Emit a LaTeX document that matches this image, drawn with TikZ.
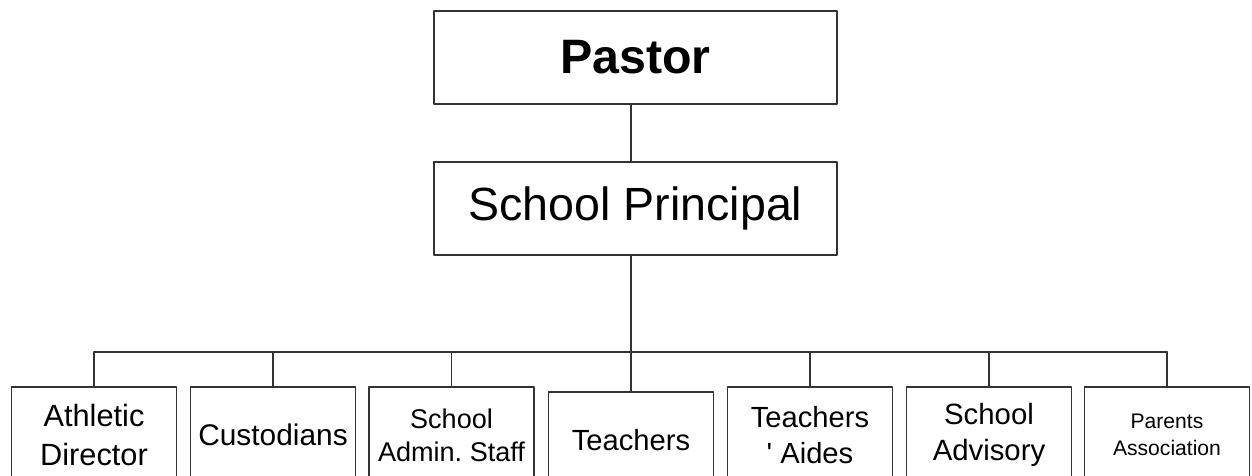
\documentclass[tikz,border=0pt]{standalone}
\usepackage{fontspec}
\setmainfont{Liberation Sans}
\frenchspacing
\begin{document}
\begin{tikzpicture}[x=0.02cm,y=-0.02cm,line join=round,line cap=round]
			\tikzset{box/.style={draw=black!80,line width=0.9pt,inner sep=0pt,align=center},
				topbox/.style={box,minimum width=8.06cm,minimum height=1.86cm},
				unit/.style={box,minimum width=3.3cm,minimum height=1.92cm},
				link/.style={draw=black!80,line width=0.9pt}}
			\clip (0,0) rectangle (1252,476);
			\node[topbox,font=\fontsize{27.5}{32}\selectfont\bfseries] (pastor) at (635.5,57.5) {Pastor};
			\node[topbox,font=\fontsize{26.5}{31}\selectfont] (principal) at (635.5,208.5) {School Principal};
			\node[unit,font=\fontsize{17.5}{22}\selectfont] (athl) at (94,435) {Athletic\\Director};
			\node[unit,font=\fontsize{17}{21}\selectfont] (cust) at (273,435) {Custodians};
			\node[unit,font=\fontsize{15.4}{18.7}\selectfont] (admin) at (451.5,435) {School\\Admin. Staff};
			\node[unit,font=\fontsize{16.6}{20}\selectfont] (teach) at (631,440) {Teachers};
			\node[unit,font=\fontsize{16.6}{20.5}\selectfont] (aides) at (810,435) {Teachers\\\textquotesingle\ Aides};
			\node[unit,font=\fontsize{16.7}{20.5}\selectfont] (advis) at (989,435) {School\\Advisory};
			\node[unit,font=\fontsize{12}{15.3}\selectfont] (parent) at (1167,435) {Parents\\Association};
			\coordinate (bus) at (0,352);
			\draw[link] (pastor.south -| teach.north) -- (principal.north -| teach.north);
			\draw[link] (principal.south -| teach.north) -- (teach.north);
			\draw[link] (athl.north |- bus) -- (parent.north |- bus);
			\foreach \n in {athl,cust,admin,aides,advis,parent}
			\draw[link] (\n.north) -- (\n.north |- bus);
		\end{tikzpicture}
\end{document}
